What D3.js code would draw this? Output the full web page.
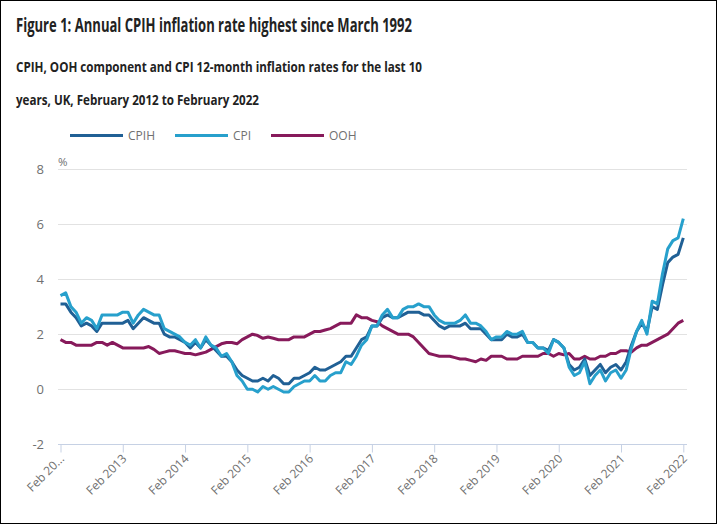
<!DOCTYPE html>
<html><head><meta charset="utf-8">
<script src="https://cdn.jsdelivr.net/npm/d3@7"></script>
<style>
html,body{margin:0;padding:0;background:#fff;}
svg{display:block;font-family:"Open Sans",sans-serif;}
</style></head><body>
<svg id="chart" width="717" height="524"></svg>
<script>
// Monthly values, Feb 2012 .. Feb 2022 (121 months)
const startMonth = "Feb 2012";
const cpih = [
  3.1,3.1,2.8,2.6,2.3,2.4,2.3,2.1,2.4,2.4,2.4,
  2.4,2.4,2.5,2.2,2.4,2.6,2.5,2.4,2.4,2.0,1.9,1.9,
  1.8,1.7,1.5,1.7,1.5,1.8,1.6,1.4,1.2,1.2,1.0,0.7,
  0.5,0.4,0.3,0.3,0.4,0.3,0.5,0.4,0.2,0.2,0.4,0.4,
  0.5,0.6,0.8,0.7,0.7,0.8,0.9,1.0,1.2,1.2,1.5,1.8,
  1.9,2.3,2.3,2.6,2.7,2.6,2.6,2.7,2.8,2.8,2.8,2.7,
  2.7,2.5,2.3,2.2,2.3,2.3,2.3,2.4,2.2,2.2,2.2,2.0,
  1.8,1.8,1.8,2.0,1.9,1.9,2.0,1.7,1.7,1.5,1.5,1.4,
  1.8,1.7,1.5,0.9,0.7,0.8,1.1,0.5,0.7,0.9,0.6,0.8,
  0.9,0.7,1.0,1.6,2.1,2.4,2.1,3.0,2.9,3.8,4.6,4.8,
  4.9,5.5
];
const cpi = [
  3.4,3.5,3.0,2.8,2.4,2.6,2.5,2.2,2.7,2.7,2.7,
  2.7,2.8,2.8,2.4,2.7,2.9,2.8,2.7,2.7,2.2,2.1,2.0,
  1.9,1.7,1.6,1.8,1.5,1.9,1.6,1.5,1.2,1.3,1.0,0.5,
  0.3,0.0,0.0,-0.1,0.1,0.0,0.1,0.0,-0.1,-0.1,0.1,0.2,
  0.3,0.3,0.5,0.3,0.3,0.5,0.6,0.6,1.0,0.9,1.2,1.6,
  1.8,2.3,2.3,2.7,2.9,2.6,2.6,2.9,3.0,3.0,3.1,3.0,
  3.0,2.7,2.5,2.4,2.4,2.4,2.5,2.7,2.4,2.4,2.3,2.1,
  1.8,1.9,1.9,2.1,2.0,2.0,2.1,1.7,1.7,1.5,1.5,1.3,
  1.8,1.7,1.5,0.8,0.5,0.6,1.0,0.2,0.5,0.7,0.3,0.6,
  0.7,0.4,0.7,1.5,2.1,2.5,2.0,3.2,3.1,4.2,5.1,5.4,
  5.5,6.2
];
const ooh = [
  1.8,1.7,1.7,1.6,1.6,1.6,1.6,1.7,1.7,1.6,1.7,
  1.6,1.5,1.5,1.5,1.5,1.5,1.55,1.45,1.3,1.35,1.4,1.4,
  1.35,1.3,1.3,1.25,1.3,1.35,1.45,1.55,1.65,1.7,1.7,1.65,
  1.8,1.9,2.0,1.95,1.85,1.9,1.85,1.8,1.8,1.8,1.9,1.9,
  1.9,2.0,2.1,2.1,2.15,2.2,2.3,2.4,2.4,2.4,2.7,2.6,
  2.6,2.5,2.45,2.3,2.2,2.1,2.0,2.0,2.0,1.9,1.7,1.5,
  1.3,1.25,1.2,1.2,1.2,1.15,1.1,1.1,1.05,1.0,1.1,1.05,
  1.2,1.2,1.2,1.1,1.1,1.1,1.2,1.2,1.2,1.2,1.3,1.3,
  1.2,1.3,1.25,1.3,1.1,1.1,1.2,1.1,1.1,1.2,1.2,1.3,
  1.3,1.4,1.4,1.35,1.5,1.6,1.6,1.7,1.8,1.9,2.0,2.2,
  2.4,2.5
];
const xTickLabels = ["Feb 20...","Feb 2013","Feb 2014","Feb 2015","Feb 2016","Feb 2017","Feb 2018","Feb 2019","Feb 2020","Feb 2021","Feb 2022"];
const yTicks = [-2,0,2,4,6,8];
const seriesNames = ["CPIH","CPI","OOH"];
const seriesColors = ["#206095","#27a0cc","#871a5b"];

const svg = d3.select("#chart");
const W = 717, H = 524;

svg.append("rect").attr("x",0.5).attr("y",0.5).attr("width",W-1).attr("height",H-1)
  .attr("fill","#fff").attr("stroke","#000").attr("stroke-width",1);

// Titles
function fitText(sel, w){ sel.attr("textLength", w).attr("lengthAdjust","spacingAndGlyphs"); }
const t1 = svg.append("text").attr("x",16).attr("y",32).attr("font-size",19.5).attr("font-weight",700)
  .attr("fill","#222").text("Figure 1: Annual CPIH inflation rate highest since March 1992");
fitText(t1, 396);
const t2 = svg.append("text").attr("x",16).attr("y",72).attr("font-size",15).attr("font-weight",700)
  .attr("fill","#222").text("CPIH, OOH component and CPI 12-month inflation rates for the last 10");
fitText(t2, 406);
const t3 = svg.append("text").attr("x",16).attr("y",105).attr("font-size",15).attr("font-weight",700)
  .attr("fill","#222").text("years, UK, February 2012 to February 2022");
fitText(t3, 243);

// Scales
const x = d3.scaleLinear().domain([0, cpih.length-1]).range([60.5, 683.3]);
const y = d3.scaleLinear().domain([-2, 8]).range([444.3, 169]);
const gridX0 = 58, gridX1 = 687;

// Gridlines
svg.append("g").selectAll("line").data(yTicks.filter(d=>d!==-2)).join("line")
  .attr("x1",gridX0).attr("x2",gridX1).attr("y1",d=>Math.round(y(d))+0.5).attr("y2",d=>Math.round(y(d))+0.5)
  .attr("stroke","#e2e2e2").attr("stroke-width",1);

// Y labels
svg.append("g").selectAll("text").data(yTicks).join("text")
  .attr("x",44).attr("y",d=>y(d)).attr("dy","0.35em").attr("text-anchor","end")
  .attr("font-size",13).attr("fill","#707070").text(d=>d);
svg.append("text").attr("x",58).attr("y",166).attr("font-size",11.5).attr("fill","#707070").text("%");

// X axis
const xTickVals = d3.range(0, cpih.length, 12);
const xAxis = d3.axisBottom(x).tickValues(xTickVals).tickSize(8).tickFormat((d,i)=>xTickLabels[i]);
const gx = svg.append("g").attr("transform",`translate(0,${Math.round(y(-2))+0.5})`).call(xAxis);
gx.select(".domain").attr("d",`M${gridX0},0H${gridX1}`).attr("stroke","#c6d1e4");
gx.selectAll(".tick line").attr("stroke","#c6d1e4");
gx.selectAll(".tick text").attr("font-family","Open Sans, sans-serif").attr("font-size",12).attr("fill","#707070")
  .attr("text-anchor","end").attr("dy",null).attr("y",null)
  .attr("transform","translate(4,15) rotate(-45)");

// Lines
const line = d3.line().x((d,i)=>x(i)).y(d=>y(d));
const data = [cpih, cpi, ooh];
// draw order: OOH, CPI, CPIH? reference shows CPI on top of CPIH in places
const order = [2,0,1];
svg.append("g").selectAll("path").data(order).join("path")
  .attr("d",k=>line(data[k])).attr("fill","none").attr("stroke",k=>seriesColors[k])
  .attr("stroke-width",3).attr("stroke-linejoin","round");

// Legend
const legX = [70,175,271];
const lg = svg.append("g");
seriesNames.forEach((n,i)=>{
  lg.append("line").attr("x1",legX[i]).attr("x2",legX[i]+53).attr("y1",135.5).attr("y2",135.5)
    .attr("stroke",seriesColors[i]).attr("stroke-width",3);
  lg.append("text").attr("x",legX[i]+58).attr("y",135.5).attr("dy","0.35em")
    .attr("font-size",12).attr("fill","#707070").text(n);
});
</script>
</body></html>
